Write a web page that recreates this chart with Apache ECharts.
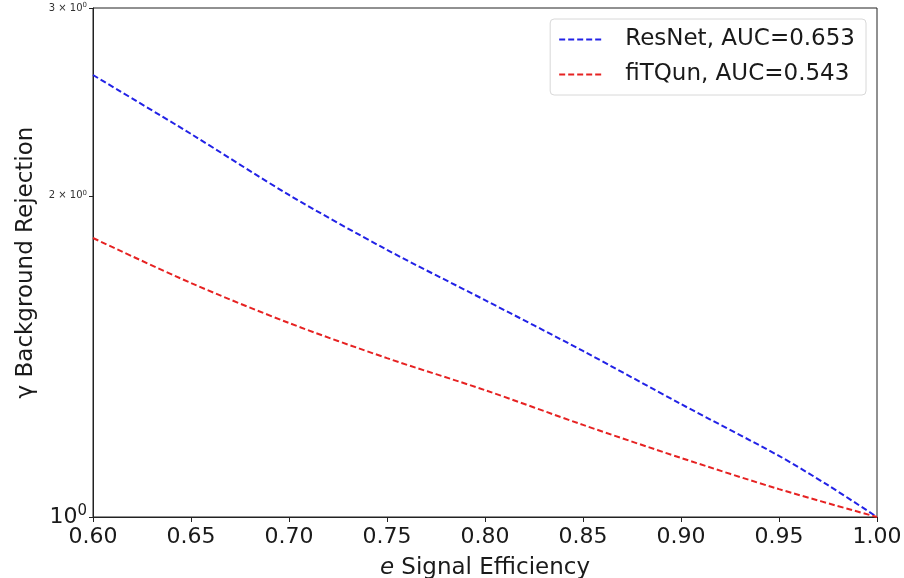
<!DOCTYPE html>
<html>
<head>
<meta charset="utf-8">
<script src="https://cdn.jsdelivr.net/npm/echarts@6/dist/echarts.min.js"></script>
<style>html,body{margin:0;padding:0;background:#fff}#c{width:904px;height:578px}</style>
</head>
<body>
<div id="c"></div>
<script>
const efficiency = [0.60, 0.65, 0.70, 0.75, 0.80, 0.85, 0.90, 0.95, 0.975, 1.00];
const resnet = [2.596, 2.286, 2.004, 1.780, 1.597, 1.431, 1.276, 1.141, 1.071, 1.00];
const fitqunX = [0.60, 0.65, 0.70, 0.75, 0.80, 0.85, 0.90, 0.95, 1.00];
const fitqun = [1.826, 1.657, 1.520, 1.409, 1.315, 1.220, 1.136, 1.062, 1.00];
const xTicks = ['0.60','0.65','0.70','0.75','0.80','0.85','0.90','0.95','1.00'];
const yTickValues = [1, 2, 3];
const yTickLabels = {1: '{b|10}{sup|0}', 2: '{s|2 × 10}{ss|0}', 3: '{s|3 × 10}{ss|0}'};
const seriesNames = ['ResNet, AUC=0.653', 'fiTQun, AUC=0.543'];

const font = 'DejaVu Sans';
const chart = echarts.init(document.getElementById('c'), null, {renderer: 'canvas'});
chart.setOption({
  animation: false,
  backgroundColor: '#fff',
  textStyle: {fontFamily: font, color: '#1a1a1a'},
  grid: {left: 93, right: 27, top: 8, bottom: 61, outerBoundsMode: 'none', containLabel: false,
    show: true, borderColor: '#222', borderWidth: 1, backgroundColor: 'transparent'},
  legend: {
    right: 38, top: 19, orient: 'vertical',
    itemWidth: 44, itemHeight: 14, itemGap: 12,
    padding: [9, 11, 9, 8],
    backgroundColor: '#fff', borderColor: '#d8d8d8', borderWidth: 1, borderRadius: 4,
    itemStyle: {opacity: 0},
    textStyle: {fontFamily: font, fontSize: 23, color: '#1a1a1a', padding: [0, 0, 0, 17]},
    data: seriesNames
  },
  xAxis: {
    type: 'value', min: 0.6, max: 1.0, interval: 0.05,
    name: '{i|e} Signal Efficiency', nameLocation: 'middle', nameGap: 40,
    nameTextStyle: {fontFamily: font, fontSize: 23, color: '#1a1a1a',
      rich: {i: {fontFamily: font, fontStyle: 'italic', fontSize: 23, color: '#1a1a1a'}}},
    axisLine: {show: true, lineStyle: {color: '#222', width: 1}},
    axisTick: {show: true, inside: false, length: 5, lineStyle: {color: '#222'}},
    axisLabel: {fontFamily: font, fontSize: 22, color: '#1a1a1a', margin: 9,
      formatter: v => xTicks[Math.round((v - 0.6) / 0.05)]},
    splitLine: {show: false}
  },
  yAxis: {
    type: 'log', logBase: 10, min: 1, max: 3,
    name: 'γ Background Rejection', nameLocation: 'middle', nameGap: 53,
    nameTextStyle: {fontFamily: font, fontSize: 23, color: '#1a1a1a'},
    axisLine: {show: true, lineStyle: {color: '#222', width: 1}},
    axisTick: {show: true, length: 4, lineStyle: {color: '#222'}, customValues: yTickValues},
    axisLabel: {
      customValues: yTickValues, margin: 6,
      formatter: v => yTickLabels[Math.round(v)] || '',
      rich: {
        b: {fontFamily: font, fontSize: 22, color: '#1a1a1a'},
        sup: {fontFamily: font, fontSize: 15, color: '#1a1a1a', verticalAlign: 'top', padding: [0, 0, 12, 0]},
        s: {fontFamily: font, fontSize: 10, color: '#333'},
        ss: {fontFamily: font, fontSize: 7, color: '#333', padding: [0, 0, 6, 0]}
      }
    },
    splitLine: {show: false},
    minorTick: {show: false}
  },
  series: [
    {name: seriesNames[0], type: 'line', showSymbol: false, symbol: 'none', smooth: 0.3,
     data: efficiency.map((x, i) => [x, resnet[i]]),
     lineStyle: {color: '#2222e6', width: 2, type: [6, 3]}, itemStyle: {color: '#2222e6'}},
    {name: seriesNames[1], type: 'line', showSymbol: false, symbol: 'none', smooth: 0.3,
     data: fitqunX.map((x, i) => [x, fitqun[i]]),
     lineStyle: {color: '#e62222', width: 2, type: [6, 3]}, itemStyle: {color: '#e62222'}}
  ]
});
</script>
</body>
</html>
